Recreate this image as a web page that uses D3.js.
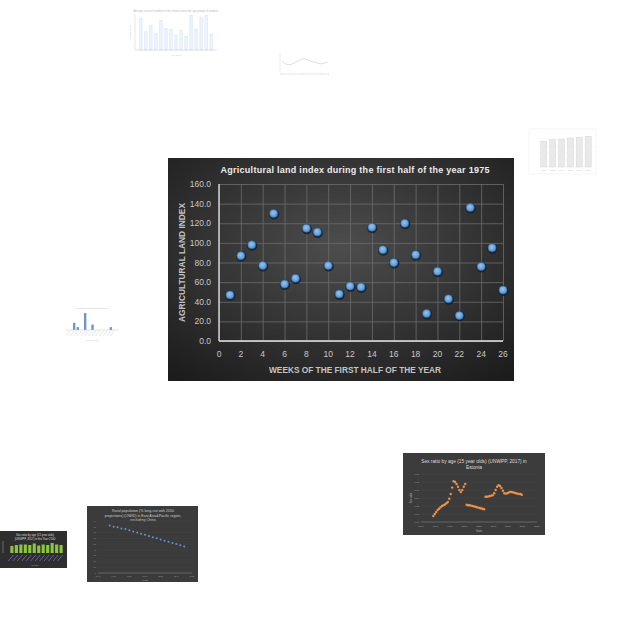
<!DOCTYPE html>
<html>
<head>
<meta charset="utf-8">
<script src="https://cdn.jsdelivr.net/npm/d3@7"></script>
<style>
body { margin: 0; background: #fff; }
text { font-family: "Liberation Sans", Arial, sans-serif; }
</style>
</head>
<body>
<div id="chart"></div>
<script>
// main chart data
var weeks = [1,2,3,4,5,6,7,8,9,10,11,12,13,14,15,16,17,18,19,20,21,22,23,24,25,26];
var landIndex = [47,87,98,77,130,58,64,115,111,77,48,56,55,116,93,80,120,88,28,71,43,26,136,76,95,52];
var xTicks = [0,2,4,6,8,10,12,14,16,18,20,22,24,26];
var yTicks = [0,20,40,60,80,100,120,140,160];

// small charts around the main one
var barsTopValues = [90,52,70,47,85,62,59,43,55,39,98,60,92,98,45];
var lineTopValues = [12,9,8,9,11,13,15,14,12,11,10,9,10,11];
var greyBarValues = [74,78,80,83,85,88];
var greyBarLabels = ["2012","2013","2014","2015","2016","2017"];
var blueSpikeValues = [0,20,8,0,47,0,15,0,0,0,0,8,0];
var estoniaYears = [1957,1959,1961,1963,1965,1967,1969,1971,1973,1975,1977,1979,1981,1983,1985,1987,1989,1991,1993,1995,1997,1999,2001,
  2003,2005,2007,2009,2011,2013,2015,2017,2019,2021,2023,2025,2027,2029,2031,2033,2035,
  2037,2039,2041,2043,2045,2047,2049,2051,2053,2055,2057,2059,2061,2063,2065,2067,2069,2071,2073,2075,2077,2079];
var estoniaRatio = [0.995,1.000,1.005,1.010,1.013,1.017,1.020,1.022,1.024,1.027,1.030,1.038,1.050,1.066,1.082,1.080,1.075,1.068,1.060,1.055,1.060,1.068,1.075,
  1.023,1.022,1.022,1.021,1.020,1.019,1.018,1.017,1.016,1.015,1.014,1.013,1.012,
  1.043,1.043,1.044,1.045,1.046,1.047,1.052,1.060,1.068,1.072,1.070,1.065,1.058,1.052,1.051,1.052,1.054,1.055,1.055,1.054,1.053,1.052,1.051,1.050,1.050,1.048];
var estoniaTicks = [1940,1960,1980,2000,2020,2040,2060,2080,2100];
var greenBarValues = [14,16,17,17,16,19,15,17,16,20,17,16];
var ruralYears = [1955,1960,1965,1970,1975,1980,1985,1990,1995,2000,2005,2010,2015,2020,2025,2030,2035,2040,2045,2050];
var ruralShare = [82,80,79,77,76,74,72,70,68,66,64,62,60,58,56,54,52,50,48,46];

var svg = d3.select("#chart").append("svg")
    .attr("width", 640)
    .attr("height", 640);

svg.append("rect").attr("width", 640).attr("height", 640).attr("fill", "#fff");

var defs = svg.append("defs");
var bg = defs.append("radialGradient").attr("id", "bgGrad")
    .attr("cx", "50%").attr("cy", "40%").attr("r", "75%");
bg.append("stop").attr("offset", "0%").attr("stop-color", "#4d4d4d");
bg.append("stop").attr("offset", "100%").attr("stop-color", "#1c1c1c");
var dot = defs.append("radialGradient").attr("id", "dotGrad")
    .attr("cx", "45%").attr("cy", "40%").attr("r", "60%");
dot.append("stop").attr("offset", "0%").attr("stop-color", "#94c4f0");
dot.append("stop").attr("offset", "100%").attr("stop-color", "#5592cf");

// ---------- main chart ----------
var box = {x: 168, y: 158, w: 346, h: 223};
var main = svg.append("g");
main.append("rect")
    .attr("x", box.x).attr("y", box.y)
    .attr("width", box.w).attr("height", box.h)
    .attr("fill", "url(#bgGrad)");

var x = d3.scaleLinear().domain([0, 26]).range([219, 503]);
var y = d3.scaleLinear().domain([0, 160]).range([341, 184]);

// grid
main.append("g")
    .attr("transform", "translate(0,341)")
    .call(d3.axisBottom(x).tickValues(xTicks).tickSize(-157).tickFormat(""))
    .call(g => g.select(".domain").remove())
    .call(g => g.selectAll("line").attr("stroke", "#6c6c6c").attr("stroke-width", 0.8));
main.append("g")
    .attr("transform", "translate(219,0)")
    .call(d3.axisLeft(y).tickValues(yTicks).tickSize(-284).tickFormat(""))
    .call(g => g.select(".domain").remove())
    .call(g => g.selectAll("line").attr("stroke", "#6c6c6c").attr("stroke-width", 0.8));

// axis lines
main.append("line").attr("x1", 219).attr("x2", 219).attr("y1", 184).attr("y2", 341)
    .attr("stroke", "#e6e6e6").attr("stroke-width", 1.3);
main.append("line").attr("x1", 219).attr("x2", 503).attr("y1", 341).attr("y2", 341)
    .attr("stroke", "#e6e6e6").attr("stroke-width", 1.3);

// tick labels
main.append("g").selectAll("text").data(yTicks).enter().append("text")
    .attr("x", 211).attr("y", d => y(d) + 3)
    .attr("text-anchor", "end")
    .attr("font-size", 8.5).attr("fill", "#c8c8c8")
    .text(d => d3.format(".1f")(d));
main.append("g").selectAll("text").data(xTicks).enter().append("text")
    .attr("x", d => x(d)).attr("y", 357)
    .attr("text-anchor", "middle")
    .attr("font-size", 8.5).attr("fill", "#c8c8c8")
    .text(d => d);

// titles
main.append("text")
    .attr("x", 355).attr("y", 173)
    .attr("text-anchor", "middle")
    .attr("font-size", 9).attr("font-weight", "bold").attr("fill", "#ececec")
    .attr("textLength", 269).attr("lengthAdjust", "spacing")
    .text("Agricultural land index during the first half of the year 1975");
main.append("text")
    .attr("x", 355).attr("y", 373)
    .attr("text-anchor", "middle")
    .attr("font-size", 9.5).attr("font-weight", "bold").attr("fill", "#c4c4c4")
    .attr("textLength", 172).attr("lengthAdjust", "spacingAndGlyphs")
    .text("WEEKS OF THE FIRST HALF OF THE YEAR");
main.append("text")
    .attr("transform", "translate(184.5,262.5) rotate(-90)")
    .attr("text-anchor", "middle")
    .attr("font-size", 9.5).attr("font-weight", "bold").attr("fill", "#c4c4c4")
    .attr("textLength", 119).attr("lengthAdjust", "spacingAndGlyphs")
    .text("AGRICULTURAL LAND INDEX");

// points
var pts = main.append("g").selectAll("g").data(weeks).enter().append("g");
pts.append("circle")
    .attr("cx", (d, i) => x(d) + 0.4).attr("cy", (d, i) => y(landIndex[i]) + 0.8)
    .attr("r", 5.2).attr("fill", "#142232").attr("opacity", 0.85);
pts.append("circle")
    .attr("cx", d => x(d)).attr("cy", (d, i) => y(landIndex[i]))
    .attr("r", 4).attr("fill", "url(#dotGrad)")
    .attr("stroke", "#2f679c").attr("stroke-width", 0.6);

// ---------- thumbnail: bar chart at top ----------
var tA = svg.append("g").attr("opacity", 0.55);
var axA = d3.scaleBand().domain(d3.range(barsTopValues.length)).range([137, 215]).padding(0.55);
var ayA = d3.scaleLinear().domain([0, 100]).range([50, 15]);
tA.append("text").attr("x", 176).attr("y", 12).attr("text-anchor", "middle")
    .attr("font-size", 2.6).attr("fill", "#777").text("Average score of students in the school across the age groups of students");
tA.append("text").attr("transform", "translate(131,33) rotate(-90)").attr("text-anchor", "middle")
    .attr("font-size", 2.5).attr("fill", "#888").text("Average score");
tA.selectAll("rect").data(barsTopValues).enter().append("rect")
    .attr("x", (d, i) => axA(i)).attr("y", d => ayA(d))
    .attr("width", axA.bandwidth()).attr("height", d => 50 - ayA(d))
    .attr("fill", "#e3eef9").attr("stroke", "#9fc3e6").attr("stroke-width", 0.5);
tA.append("line").attr("x1", 135).attr("x2", 217).attr("y1", 50).attr("y2", 50).attr("stroke", "#999").attr("stroke-width", 0.5);
tA.append("line").attr("x1", 135).attr("x2", 135).attr("y1", 14).attr("y2", 50).attr("stroke", "#aaa").attr("stroke-width", 0.5);
tA.append("text").attr("x", 176).attr("y", 56).attr("text-anchor", "middle")
    .attr("font-size", 2.4).attr("fill", "#999").text("Age group");

// ---------- thumbnail: small line chart ----------
var tB = svg.append("g").attr("opacity", 0.45);
var axB = d3.scaleLinear().domain([0, lineTopValues.length - 1]).range([282, 328]);
var ayB = d3.scaleLinear().domain([0, 20]).range([72, 54]);
tB.append("line").attr("x1", 280).attr("x2", 280).attr("y1", 53).attr("y2", 72).attr("stroke", "#aaa").attr("stroke-width", 0.5);
tB.append("path").datum(lineTopValues)
    .attr("d", d3.line().x((d, i) => axB(i)).y(d => ayB(d)))
    .attr("fill", "none").attr("stroke", "#8a8a8a").attr("stroke-width", 0.6);
tB.append("line").attr("x1", 280).attr("x2", 330).attr("y1", 74).attr("y2", 74)
    .attr("stroke", "#aaa").attr("stroke-width", 1).attr("stroke-dasharray", "1.5,1");

// ---------- thumbnail: grey bars right ----------
var tC = svg.append("g").attr("opacity", 0.5);
tC.append("rect").attr("x", 529).attr("y", 129).attr("width", 67).attr("height", 45)
    .attr("fill", "#fff").attr("stroke", "#ddd").attr("stroke-width", 0.5);
var axC = d3.scaleBand().domain(greyBarLabels).range([538, 594]).padding(0.3);
var ayC = d3.scaleLinear().domain([0, 100]).range([167, 132]);
[0, 20, 40, 60, 80, 100].forEach(function (v) {
    tC.append("line").attr("x1", 538).attr("x2", 594).attr("y1", ayC(v)).attr("y2", ayC(v))
        .attr("stroke", "#e4e4e4").attr("stroke-width", 0.4);
});
tC.selectAll(".b").data(greyBarValues).enter().append("rect")
    .attr("x", (d, i) => axC(greyBarLabels[i])).attr("y", d => ayC(d))
    .attr("width", axC.bandwidth()).attr("height", d => 167 - ayC(d))
    .attr("fill", "#d4d4d4").attr("stroke", "#999").attr("stroke-width", 0.3);
tC.selectAll(".l").data(greyBarLabels).enter().append("text")
    .attr("x", d => axC(d) + axC.bandwidth() / 2).attr("y", 170.5).attr("text-anchor", "middle")
    .attr("font-size", 2.2).attr("fill", "#888").text(d => d);

// ---------- thumbnail: blue spikes left ----------
var tD = svg.append("g").attr("opacity", 0.7);
var axD = d3.scaleBand().domain(d3.range(blueSpikeValues.length)).range([68, 117]).padding(0.35);
var ayD = d3.scaleLinear().domain([0, 50]).range([330, 312]);
tD.append("text").attr("x", 92).attr("y", 309).attr("text-anchor", "middle")
    .attr("font-size", 2.4).attr("fill", "#999").text("Frequency of observed values");
tD.selectAll("rect").data(blueSpikeValues).enter().append("rect")
    .attr("x", (d, i) => axD(i)).attr("y", d => ayD(d))
    .attr("width", axD.bandwidth()).attr("height", d => 330 - ayD(d))
    .attr("fill", "#3a66b0");
tD.append("line").attr("x1", 66).attr("x2", 119).attr("y1", 330).attr("y2", 330).attr("stroke", "#aaa").attr("stroke-width", 0.5);
d3.range(blueSpikeValues.length).forEach(function (i) {
    tD.append("line").attr("x1", axD(i) + 1).attr("x2", axD(i) - 3).attr("y1", 331).attr("y2", 336)
        .attr("stroke", "#bbb").attr("stroke-width", 0.5);
});
tD.append("text").attr("x", 92).attr("y", 341).attr("text-anchor", "middle")
    .attr("font-size", 2.4).attr("fill", "#aaa").text("Value range");

// ---------- thumbnail: Estonia sex ratio ----------
var tE = svg.append("g");
tE.append("rect").attr("x", 403).attr("y", 453).attr("width", 142).attr("height", 82).attr("fill", "#3c3c3c");
tE.append("text").attr("x", 474).attr("y", 463).attr("text-anchor", "middle")
    .attr("font-size", 4.8).attr("fill", "#ddd").text("Sex ratio by age (15 year olds) (UNWPP, 2017) in");
tE.append("text").attr("x", 474).attr("y", 469).attr("text-anchor", "middle")
    .attr("font-size", 4.8).attr("fill", "#ddd").text("Estonia");
var axE = d3.scaleLinear().domain([1940, 2100]).range([421, 537]);
var ayE = d3.scaleLinear().domain([0.98, 1.10]).range([522, 474]);
[0.98, 1.00, 1.02, 1.04, 1.06, 1.08, 1.10].forEach(function (v) {
    tE.append("line").attr("x1", 421).attr("x2", 537).attr("y1", ayE(v)).attr("y2", ayE(v))
        .attr("stroke", "#4a4a4a").attr("stroke-width", 0.4);
    tE.append("text").attr("x", 419).attr("y", ayE(v) + 0.8).attr("text-anchor", "end")
        .attr("font-size", 2.4).attr("fill", "#aaa").text(v.toFixed(2));
});
tE.append("line").attr("x1", 421).attr("x2", 537).attr("y1", 522).attr("y2", 522).attr("stroke", "#888").attr("stroke-width", 0.5);
estoniaTicks.forEach(function (v) {
    tE.append("text").attr("x", axE(v)).attr("y", 526.5).attr("text-anchor", "middle")
        .attr("font-size", 2.4).attr("fill", "#aaa").text(v);
});
tE.append("text").attr("transform", "translate(412,498) rotate(-90)").attr("text-anchor", "middle")
    .attr("font-size", 2.6).attr("fill", "#bbb").text("Sex ratio");
tE.append("text").attr("x", 479).attr("y", 531.5).attr("text-anchor", "middle")
    .attr("font-size", 2.6).attr("fill", "#bbb").text("Years");
tE.selectAll("circle").data(estoniaYears).enter().append("circle")
    .attr("cx", d => axE(d)).attr("cy", (d, i) => ayE(estoniaRatio[i]))
    .attr("r", 1.2).attr("fill", "#ee9148");

// ---------- thumbnail: green bars ----------
var tF = svg.append("g");
tF.append("rect").attr("x", 0).attr("y", 531).attr("width", 67).attr("height", 37).attr("fill", "#2e2e2e");
tF.append("text").attr("x", 35).attr("y", 536).attr("text-anchor", "middle")
    .attr("font-size", 2.8).attr("fill", "#ddd").text("Sex ratio by age (15 year olds)");
tF.append("text").attr("x", 35).attr("y", 539.5).attr("text-anchor", "middle")
    .attr("font-size", 2.8).attr("fill", "#ddd").text("(UNWPP, 2017) in the Year 2100");
var axF = d3.scaleBand().domain(d3.range(greenBarValues.length)).range([9, 64]).padding(0.3);
var ayF = d3.scaleLinear().domain([0, 20]).range([553, 543]);
tF.selectAll("rect.g").data(greenBarValues).enter().append("rect")
    .attr("x", (d, i) => axF(i)).attr("y", d => ayF(d))
    .attr("width", axF.bandwidth()).attr("height", d => 553 - ayF(d))
    .attr("fill", "#8cc63f");
tF.append("line").attr("x1", 3).attr("x2", 3).attr("y1", 541).attr("y2", 553).attr("stroke", "#999").attr("stroke-width", 0.6);
greenBarValues.forEach(function (d, i) {
    tF.append("line").attr("x1", axF(i) + 3).attr("x2", axF(i) - 2).attr("y1", 555).attr("y2", 561)
        .attr("stroke", "#6f6fbf").attr("stroke-width", 0.8);
});
tF.append("text").attr("x", 35).attr("y", 566).attr("text-anchor", "middle")
    .attr("font-size", 2.2).attr("fill", "#aaa").text("Country");

// ---------- thumbnail: rural population ----------
var tG = svg.append("g");
tG.append("rect").attr("x", 87).attr("y", 506).attr("width", 111).attr("height", 76).attr("fill", "#3b3b3b");
["Rural population (% long-run with 2050", "projections) (OWID) in East Asia&Pacific region,", "excluding China"].forEach(function (s, i) {
    tG.append("text").attr("x", 143).attr("y", 512 + i * 4.5).attr("text-anchor", "middle")
        .attr("font-size", 3.6).attr("fill", "#ccc").text(s);
});
var axG = d3.scaleLinear().domain([1940, 2060]).range([98, 192]);
var ayG = d3.scaleLinear().domain([0, 90]).range([573, 521]);
[0, 10, 20, 30, 40, 50, 60, 70, 80, 90].forEach(function (v) {
    tG.append("line").attr("x1", 98).attr("x2", 192).attr("y1", ayG(v)).attr("y2", ayG(v))
        .attr("stroke", "#474747").attr("stroke-width", 0.4);
    tG.append("text").attr("x", 96).attr("y", ayG(v) + 0.8).attr("text-anchor", "end")
        .attr("font-size", 2.2).attr("fill", "#999").text(v);
});
[1940, 1960, 1980, 2000, 2020, 2040, 2060].forEach(function (v) {
    tG.append("text").attr("x", axG(v)).attr("y", 577).attr("text-anchor", "middle")
        .attr("font-size", 2.2).attr("fill", "#999").text(v);
});
tG.append("line").attr("x1", 98).attr("x2", 192).attr("y1", 573).attr("y2", 573).attr("stroke", "#888").attr("stroke-width", 0.5);
tG.append("text").attr("x", 145).attr("y", 581).attr("text-anchor", "middle")
    .attr("font-size", 2.4).attr("fill", "#aaa").text("Years");
tG.selectAll("circle").data(ruralYears).enter().append("circle")
    .attr("cx", d => axG(d)).attr("cy", (d, i) => ayG(ruralShare[i]))
    .attr("r", 1).attr("fill", "#6a8fd8");
</script>
</body>
</html>
